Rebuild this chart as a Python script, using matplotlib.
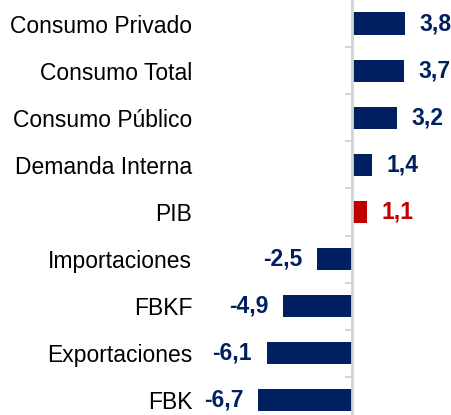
import matplotlib.pyplot as plt

categories = ['Consumo Privado', 'Consumo Total', 'Consumo Público', 'Demanda Interna',
              'PIB', 'Importaciones', 'FBKF', 'Exportaciones', 'FBK']
values = [3.8, 3.7, 3.2, 1.4, 1.1, -2.5, -4.9, -6.1, -6.7]
labels = ['3,8', '3,7', '3,2', '1,4', '1,1', '-2,5', '-4,9', '-6,1', '-6,7']

navy = '#002060'
red = '#c00000'
colors = [red if c == 'PIB' else navy for c in categories]

plt.rcParams['font.family'] = ['Liberation Sans', 'DejaVu Sans']

fig = plt.figure(figsize=(4.52, 4.15), dpi=100)
ax = fig.add_axes([0, 0, 1, 1])

pos = list(range(len(categories)))
ax.barh(pos, values, height=0.47, color=colors, zorder=2)

ax.set_xlim(-352 / 14, 100 / 14)
ax.set_ylim(8.31, -0.5)

# axis at zero, light grey, with ticks between categories
for s in ['top', 'right', 'bottom']:
    ax.spines[s].set_visible(False)
ax.spines['left'].set_position(('data', 0))
ax.spines['left'].set_color('#d4d4d4')
ax.spines['left'].set_linewidth(2)
ax.spines['left'].set_zorder(3)
ax.set_xticks([])
ax.set_yticks(pos)
ax.set_yticklabels(categories, fontsize=16.5, color='black')
ax.set_yticks([p + 0.5 for p in pos[:-1]], minor=True)
ax.tick_params(axis='y', which='major', length=0, pad=115)
ax.tick_params(axis='y', which='minor', length=5, width=1.5, color='#d4d4d4', direction='out')

for p, v, lab, c in zip(pos, values, labels, colors):
    off = 10.5 if v > 0 else -10.5
    ax.annotate(lab, (v, p), xytext=(off, 0), textcoords='offset points',
                ha='left' if v > 0 else 'right', va='center',
                fontsize=16.5, fontweight='bold', color=c)

fig.savefig('out.png', dpi=100)
